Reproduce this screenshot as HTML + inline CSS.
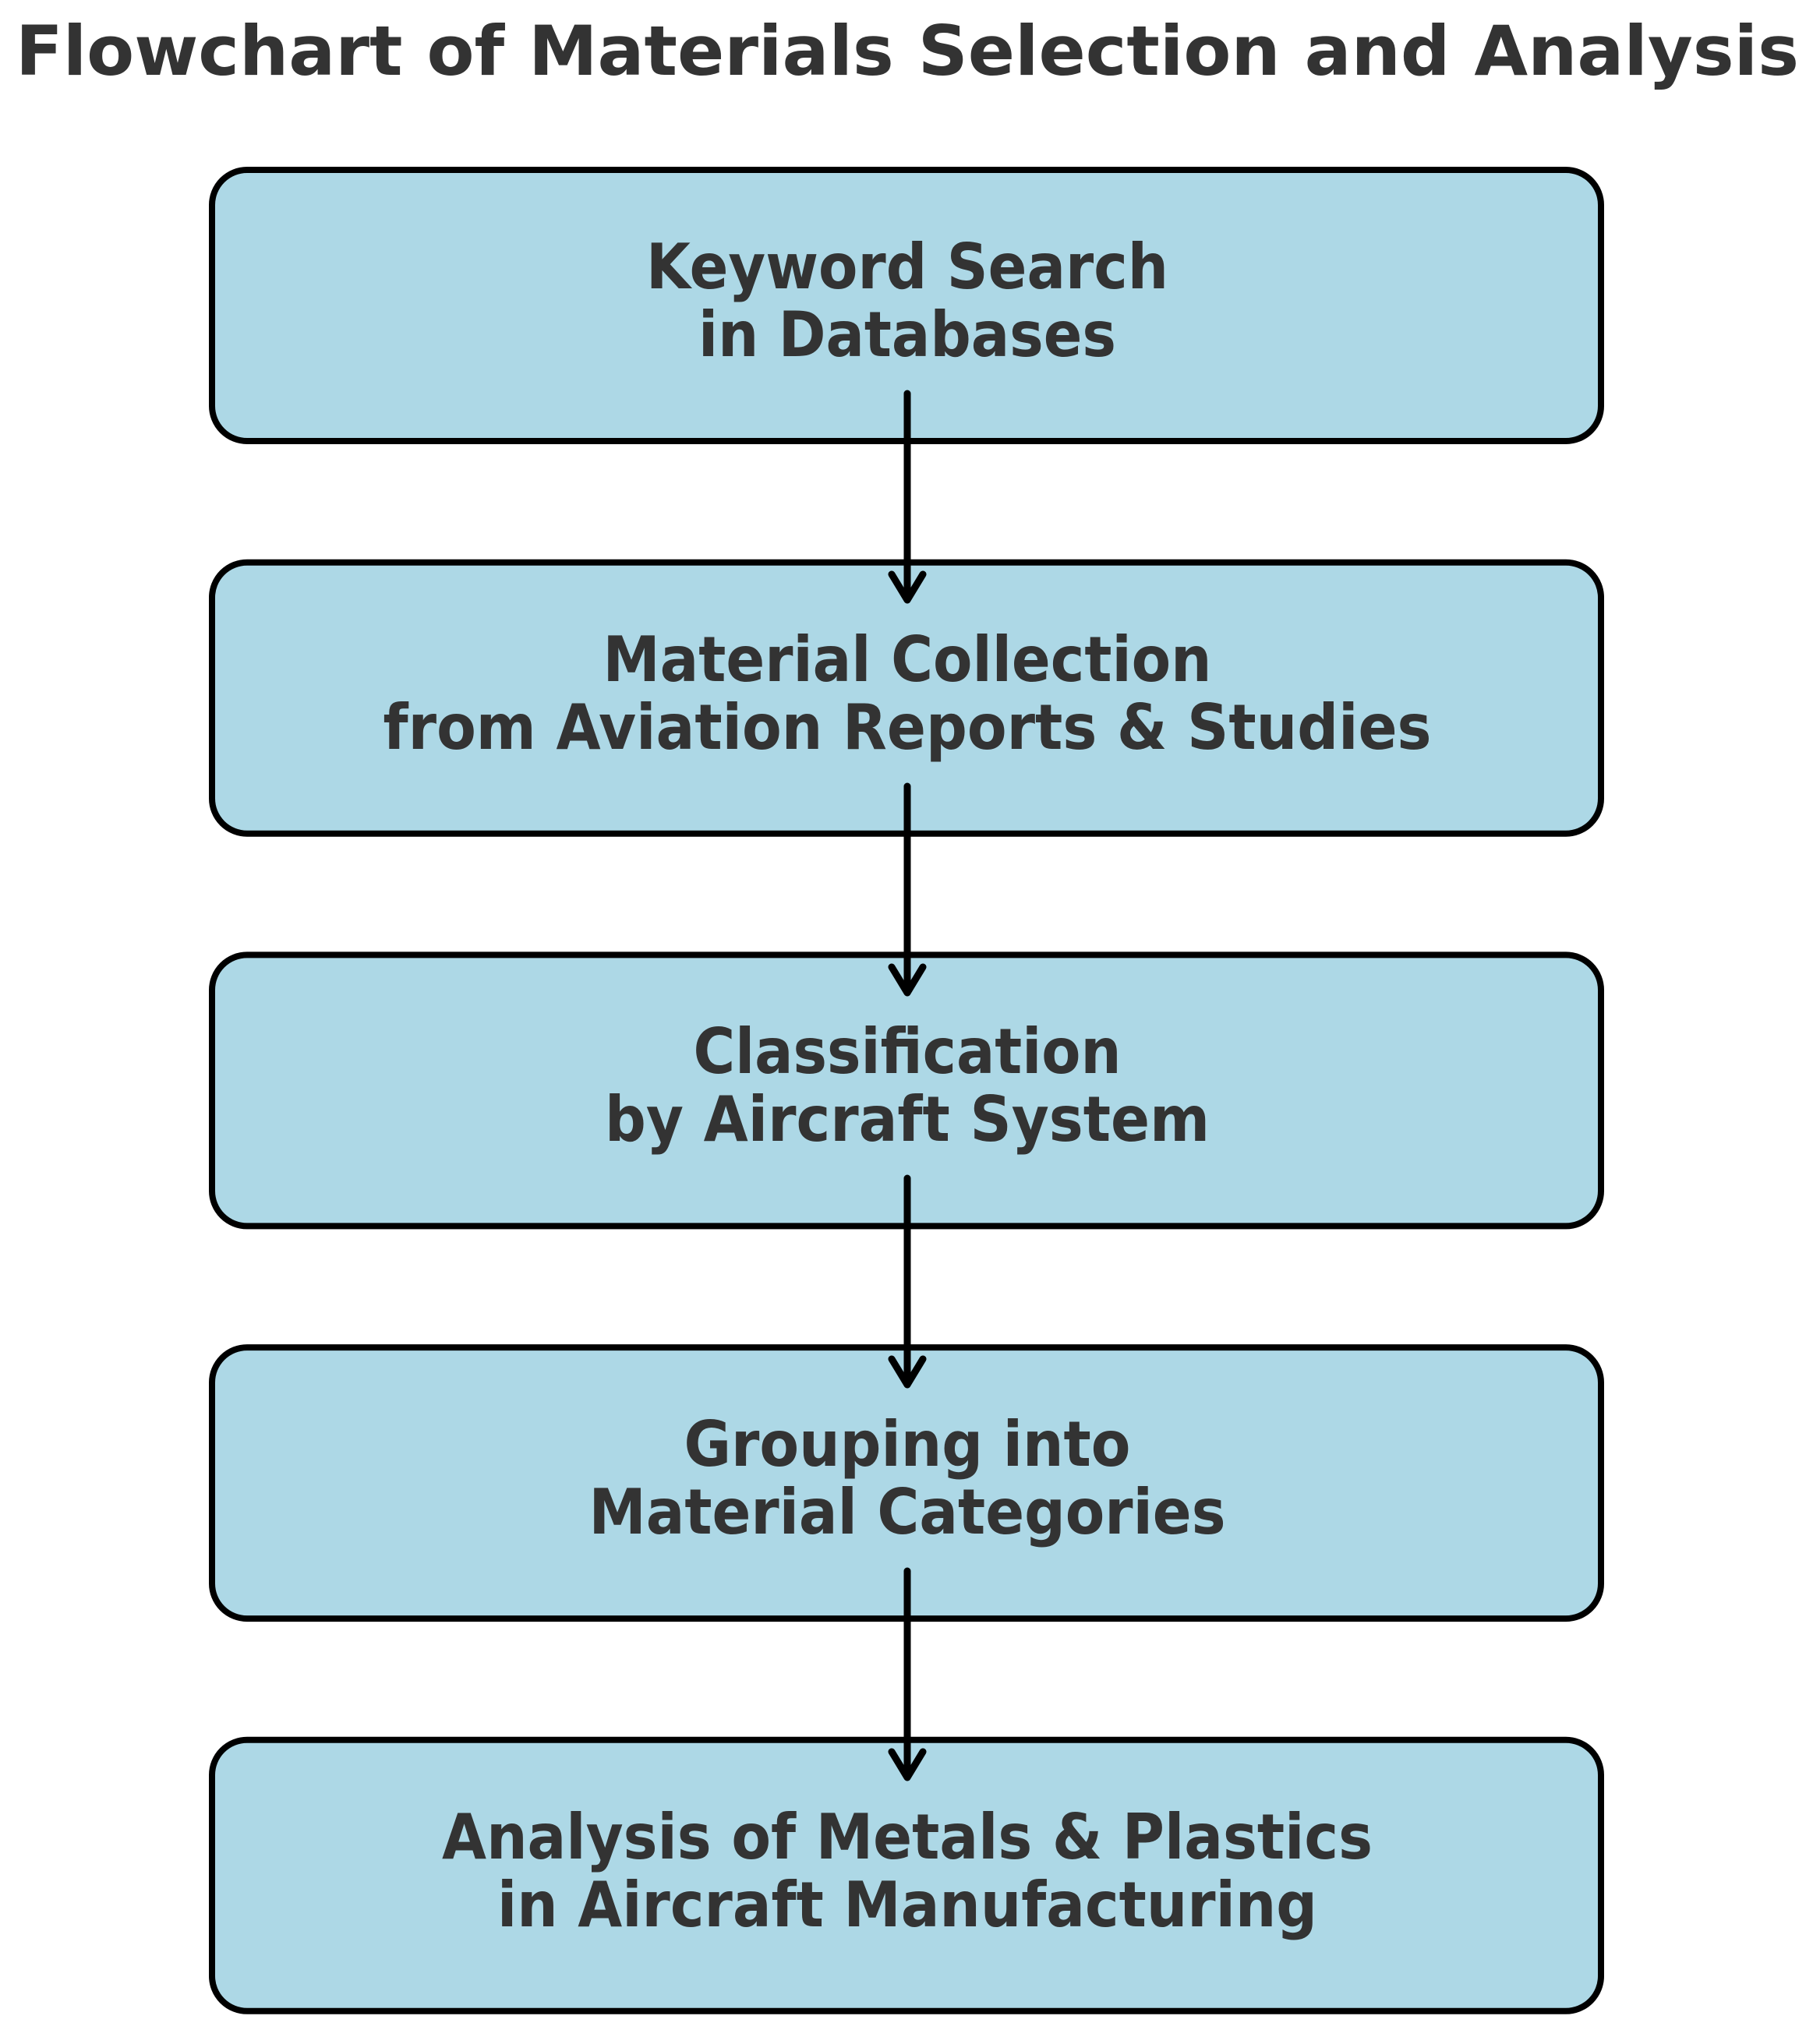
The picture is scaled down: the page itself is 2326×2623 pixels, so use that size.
<!DOCTYPE html>
<html><head><meta charset="utf-8"><style>
html,body{margin:0;padding:0;background:#fff;}
svg{display:block;}
text{font-family:"DejaVu Sans","Liberation Sans",sans-serif;font-weight:bold;fill:#333;}
</style></head><body>
<svg width="2326" height="2623" viewBox="0 0 2326 2623" xmlns="http://www.w3.org/2000/svg">
<text x="1164" y="96" font-size="88" text-anchor="middle" textLength="2288" lengthAdjust="spacingAndGlyphs">Flowchart of Materials Selection and Analysis</text>
<g stroke="#000" stroke-width="8" fill="#add8e6">
<rect x="272" y="218" width="1782" height="348" rx="45"/>
<rect x="272" y="721.7" width="1782" height="348" rx="45"/>
<rect x="272" y="1225.4" width="1782" height="348" rx="45"/>
<rect x="272" y="1729.1" width="1782" height="348" rx="45"/>
<rect x="272" y="2232.8" width="1782" height="348" rx="45"/>
</g>
<g font-size="80" text-anchor="middle">
<text x="1164" y="370" textLength="670" lengthAdjust="spacingAndGlyphs">Keyword Search</text>
<text x="1164" y="457" textLength="536" lengthAdjust="spacingAndGlyphs">in Databases</text>
<text x="1164" y="874" textLength="781" lengthAdjust="spacingAndGlyphs">Material Collection</text>
<text x="1164" y="961" textLength="1345" lengthAdjust="spacingAndGlyphs">from Aviation Reports &amp; Studies</text>
<text x="1164" y="1377" textLength="549" lengthAdjust="spacingAndGlyphs">Classification</text>
<text x="1164" y="1464" textLength="776" lengthAdjust="spacingAndGlyphs">by Aircraft System</text>
<text x="1164" y="1881" textLength="573" lengthAdjust="spacingAndGlyphs">Grouping into</text>
<text x="1164" y="1968" textLength="817" lengthAdjust="spacingAndGlyphs">Material Categories</text>
<text x="1164" y="2385" textLength="1194" lengthAdjust="spacingAndGlyphs">Analysis of Metals &amp; Plastics</text>
<text x="1164" y="2472" textLength="1052" lengthAdjust="spacingAndGlyphs">in Aircraft Manufacturing</text>
</g>
<g stroke="#000" stroke-width="9" fill="none" stroke-linecap="round" stroke-linejoin="round">
<path d="M1164 505 V770 M1144 737 L1164 770 L1184 737"/>
<path d="M1164 1009 V1274 M1144 1241 L1164 1274 L1184 1241"/>
<path d="M1164 1512 V1777 M1144 1744 L1164 1777 L1184 1744"/>
<path d="M1164 2016 V2281 M1144 2248 L1164 2281 L1184 2248"/>
</g>
</svg>
</body></html>
